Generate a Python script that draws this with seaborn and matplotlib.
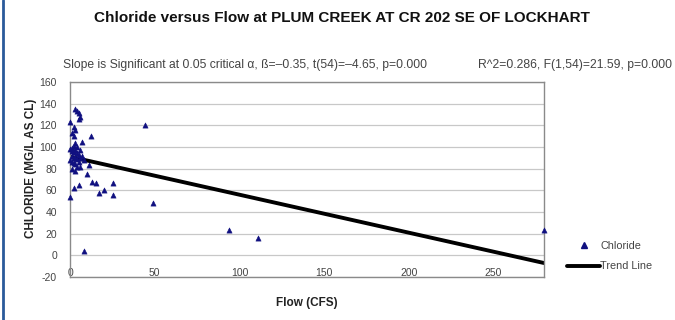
import matplotlib
matplotlib.use("Agg")
import matplotlib.pyplot as plt
from matplotlib.lines import Line2D
import seaborn as sns
import pandas as pd

# Flow (CFS) and chloride (mg/L as Cl) samples
flow = [3, 4, 5, 6, 5, 0, 2, 3, 1, 2, 12, 7, 3, 44,
        0, 1, 2, 3, 4, 5, 1, 2, 3, 4, 0, 1, 2, 3, 5, 6, 7, 8, 4, 2, 6, 1,
        11, 4, 10, 13, 15, 25, 2, 5, 17, 20, 25, 0, 8, 49, 94, 111, 280,
        1, 3, 6]
chloride = [135, 133, 131, 128, 126, 123, 118, 116, 113, 110, 110, 105, 104, 120,
            98, 96, 95, 97, 94, 93, 92, 90, 91, 89, 88, 86, 85, 84, 86, 90, 92, 88, 100, 101, 97, 99,
            83, 82, 75, 68, 67, 67, 62, 65, 58, 60, 56, 54, 4, 48, 23, 16, 23,
            80, 78, 82]

# Regression trend line
slope = -0.35
intercept = 91.0
trend_x = [0, 280]

y_ticks = list(range(-20, 161, 20))
x_ticks = [0, 50, 100, 150, 200, 250]

title = "Chloride versus Flow at PLUM CREEK AT CR 202 SE OF LOCKHART"
slope_note = "Slope is Significant at 0.05 critical \u03b1, \u00df=\u20130.35, t(54)=\u20134.65, p=0.000"
fit_note = "R^2=0.286, F(1,54)=21.59, p=0.000"

sns.set_theme(style="white")
plt.rcParams["font.family"] = ["Liberation Sans", "DejaVu Sans"]
plt.rcParams["axes.unicode_minus"] = False

df = pd.DataFrame({"Flow": flow, "Chloride": chloride})
trend = pd.DataFrame({"Flow": trend_x,
                      "Chloride": [intercept + slope * x for x in trend_x]})

fig = plt.figure(figsize=(6.75, 3.2), dpi=100)
ax = fig.add_axes([0.104, 0.134, 0.702, 0.610])

ax.set_axisbelow(True)
ax.yaxis.grid(True, color="#c8c8c8", linewidth=0.9)

sns.lineplot(data=trend, x="Flow", y="Chloride", ax=ax, color="black",
             linewidth=2.8, zorder=2)
sns.scatterplot(data=df, x="Flow", y="Chloride", ax=ax, marker="^",
                color="#101080", edgecolor="#101080", s=14, linewidth=0.4,
                zorder=3, clip_on=False)

ax.set_xlim(0, 280)
ax.set_ylim(-20, 160)
ax.set_xticks(x_ticks)
ax.set_yticks(y_ticks)
ax.tick_params(axis="both", labelsize=7.5, colors="#444444", length=2.5,
               width=0.8, direction="out")
ax.tick_params(axis="y", pad=7)
ax.tick_params(axis="x", pad=-9)
for s in ax.spines.values():
    s.set_color("#8a8a8a")
    s.set_linewidth(1.0)

ax.set_xlabel("Flow (CFS)", fontsize=8.5, fontweight="bold", color="#222222",
              va="center")
ax.xaxis.set_label_coords(0.5, -0.135)
ax.set_ylabel("CHLORIDE (MG/L AS CL)", fontsize=8.5, fontweight="bold",
              color="#222222", va="center")
ax.yaxis.set_label_coords(-0.082, 0.556)

fig.text(0.507, 0.944, title, ha="center", va="center", fontsize=11,
         fontweight="bold", color="#111111")
fig.text(0.093, 0.797, slope_note, ha="left", va="center", fontsize=8.7,
         color="#444444")
fig.text(0.996, 0.797, fit_note, ha="right", va="center", fontsize=8.7,
         color="#444444")

# Legend
handles = [Line2D([], [], marker="^", linestyle="none", color="#101080",
                  markersize=4),
           Line2D([], [], color="black", linewidth=2.8)]
fig.legend(handles, ["Chloride", "Trend Line"], loc="center left",
           bbox_to_anchor=(0.826, 0.2), frameon=False, fontsize=7.8,
           handlelength=3.0, handletextpad=0.05, labelspacing=1.0,
           labelcolor="#444444")

# Left frame rule
fig.add_artist(Line2D([0.0045, 0.0045], [0, 1], color="#2a5a9a",
                      linewidth=2.0, transform=fig.transFigure))

fig.savefig("out.png", dpi=100)
